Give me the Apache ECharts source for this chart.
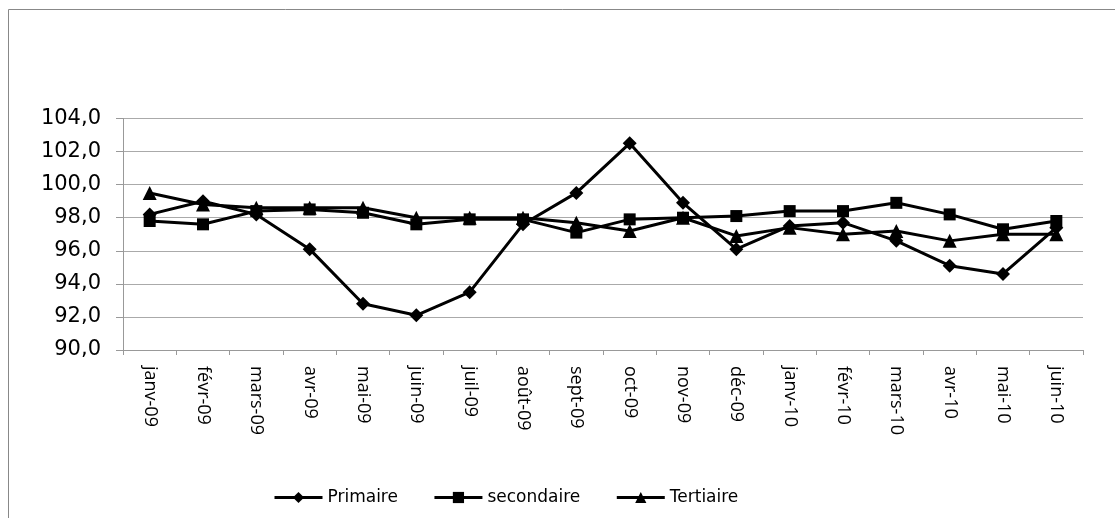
<!DOCTYPE html>
<html><head><meta charset="utf-8">
<script src="https://cdn.jsdelivr.net/npm/echarts@6/dist/echarts.min.js"></script>
<style>html,body{margin:0;padding:0;background:#fff;}#c{width:1115px;height:518px;}</style>
</head><body><div id="c"></div>
<script>
const categories = ['janv-09','févr-09','mars-09','avr-09','mai-09','juin-09','juil-09','août-09','sept-09','oct-09','nov-09','déc-09','janv-10','févr-10','mars-10','avr-10','mai-10','juin-10'];
const primaire   = [98.2, 99.0, 98.2, 96.1, 92.8, 92.1, 93.5, 97.6, 99.5, 102.5, 98.9, 96.1, 97.5, 97.7, 96.6, 95.1, 94.6, 97.4];
const secondaire = [97.8, 97.6, 98.4, 98.5, 98.3, 97.6, 97.9, 97.9, 97.1, 97.9, 98.0, 98.1, 98.4, 98.4, 98.9, 98.2, 97.3, 97.8];
const tertiaire  = [99.5, 98.8, 98.6, 98.6, 98.6, 98.0, 98.0, 98.0, 97.7, 97.2, 98.0, 96.9, 97.4, 97.0, 97.2, 96.6, 97.0, 97.0];
const yTicks = [90, 92, 94, 96, 98, 100, 102, 104];

const chart = echarts.init(document.getElementById('c'), null, {renderer:'canvas'});
const mk = (name, data, symbol, size) => ({
  name, type:'line', data, symbol, symbolSize:size, showSymbol:true,
  lineStyle:{color:'#000', width:3}, itemStyle:{color:'#000'}, animation:false
});
chart.setOption({
  animation:false,
  graphic:[{type:'rect', shape:{x:8.5, y:9.5, width:1120, height:520}, style:{fill:'none', stroke:'#888', lineWidth:1}, silent:true}],
  grid:{left:123, right:32, top:118.5, bottom:168, containLabel:false},
  legend:{
    top:484, left:268, itemGap:35, itemWidth:48, itemHeight:14,
    lineStyle:{width:3, color:'#000'},
    textStyle:{fontFamily:'DejaVu Sans', fontSize:17, color:'#000'},
    data:['Primaire','secondaire','Tertiaire']
  },
  xAxis:{
    type:'category', data:categories, boundaryGap:true,
    axisLine:{lineStyle:{color:'#999', width:1}},
    axisTick:{show:true, alignWithLabel:false, length:5, lineStyle:{color:'#999'}},
    axisLabel:{rotate:-90, interval:0, margin:16, fontFamily:'Open Sans', fontSize:18, color:'#000'}
  },
  yAxis:{
    type:'value', min:90, max:104, interval:2,
    axisLine:{show:true, lineStyle:{color:'#999', width:1}},
    axisTick:{show:true, inside:false, length:7, lineStyle:{color:'#999'}},
    splitLine:{show:true, lineStyle:{color:'#aaa', width:1}},
    axisLabel:{margin:22, fontFamily:'DejaVu Sans', fontSize:21, color:'#000',
      formatter:v => yTicks.includes(v) ? v.toFixed(1).replace('.', ',') : ''}
  },
  series:[
    mk('Primaire', primaire, 'diamond', 14),
    mk('secondaire', secondaire, 'rect', 12),
    mk('Tertiaire', tertiaire, 'triangle', 14)
  ]
});
</script></body></html>
